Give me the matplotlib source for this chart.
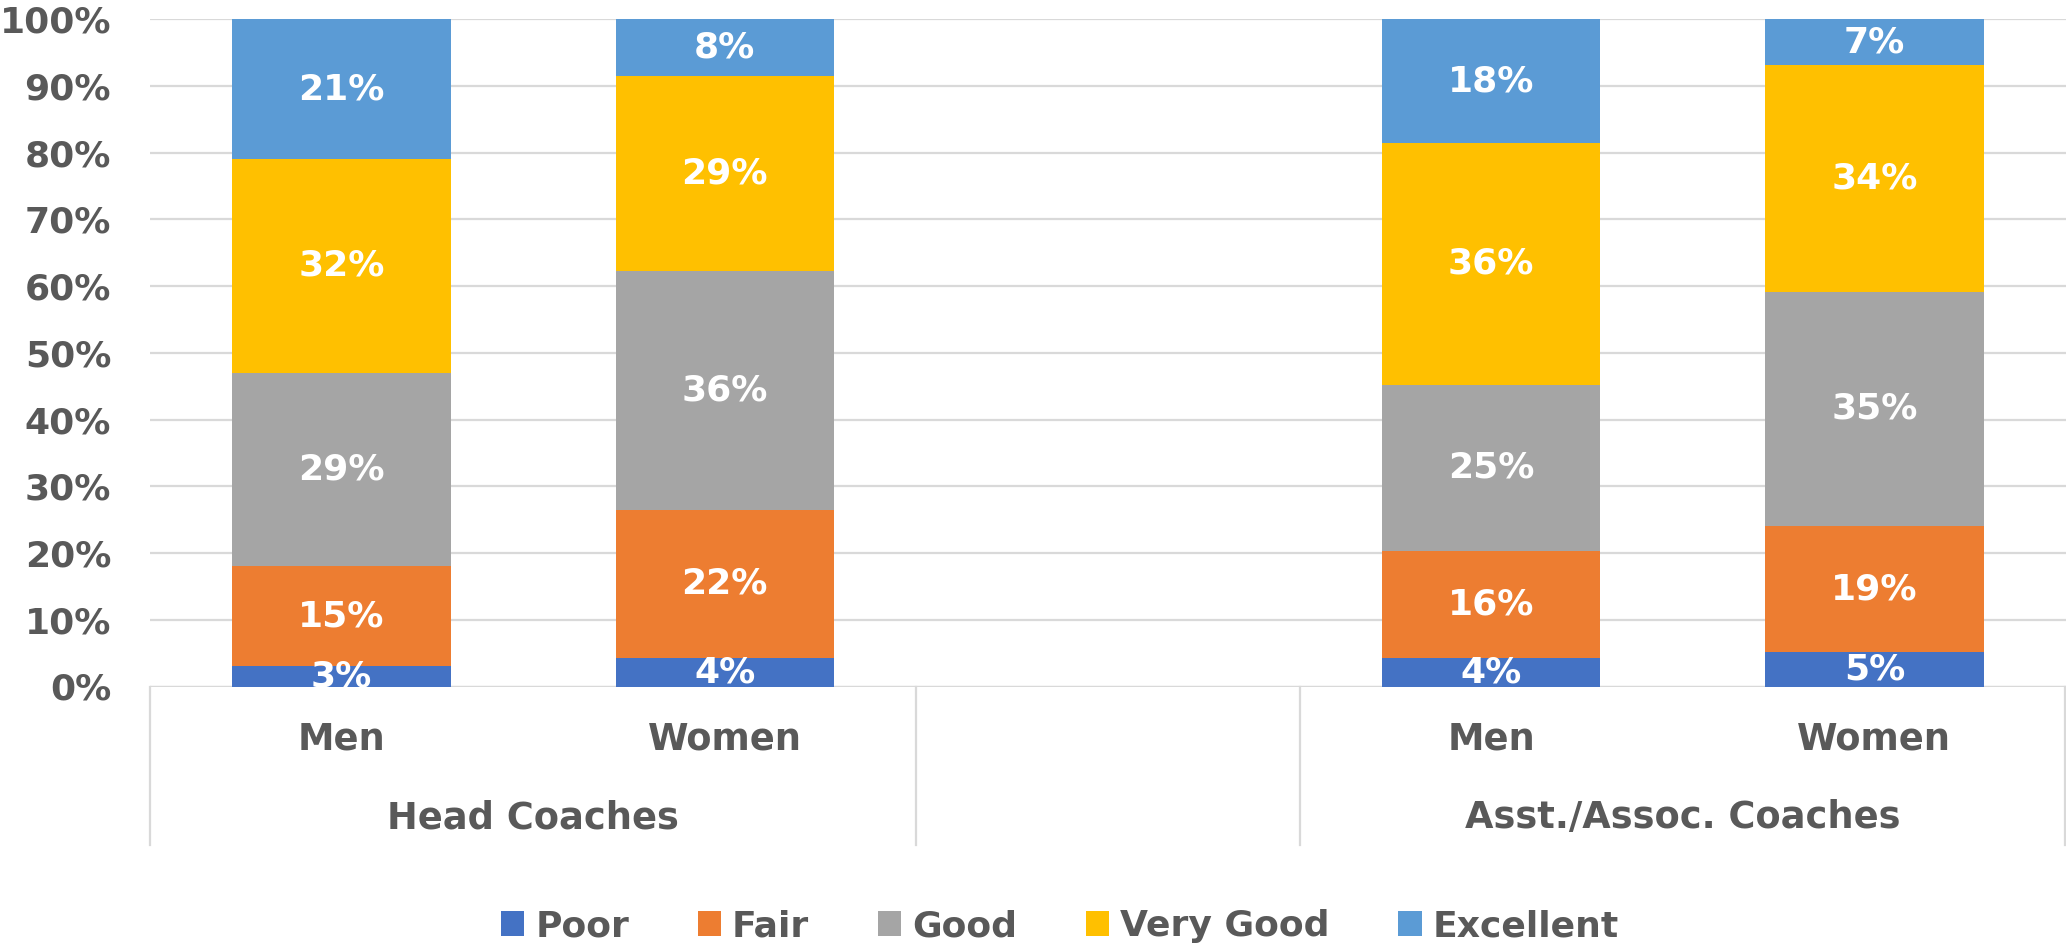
import matplotlib
matplotlib.use("Agg")
import matplotlib.pyplot as plt
import matplotlib.transforms as mtransforms
from matplotlib.lines import Line2D
import numpy as np

plt.rcParams['font.family'] = ['DejaVu Sans']
plt.rcParams['font.weight'] = 'bold'

# ---- data ----
groups = ["Head Coaches", "Asst./Assoc. Coaches"]
subcats = ["Men", "Women", "", "Men", "Women"]
series = ["Poor", "Fair", "Good", "Very Good", "Excellent"]
poor      = [3.0, 4.3, None, 4.3, 5.1]
fair      = [15.0, 22.2, None, 16.0, 19.0]
good      = [29.0, 35.8, None, 24.9, 35.0]
very_good = [32.0, 29.2, None, 36.2, 34.0]
excellent = [21.0, 8.5, None, 18.6, 6.9]
labels = {
    "Poor":      ["3%", "4%", "", "4%", "5%"],
    "Fair":      ["15%", "22%", "", "16%", "19%"],
    "Good":      ["29%", "36%", "", "25%", "35%"],
    "Very Good": ["32%", "29%", "", "36%", "34%"],
    "Excellent": ["21%", "8%", "", "18%", "7%"],
}
colors = ["#4472C4", "#ED7D31", "#A5A5A5", "#FFC000", "#5B9BD5"]
yticks = list(range(0, 101, 10))

TXT = "#595959"
GRID = "#D9D9D9"
FS = 26

fig = plt.figure(figsize=(20.66, 9.47), dpi=100)
ax = fig.add_axes([150/2066, 1-686.5/947, 1-150/2066, (686.5-19)/947])

x = np.arange(len(subcats))
bottom = np.zeros(len(subcats))
handles = []
for name, vals, col in zip(series, [poor, fair, good, very_good, excellent], colors):
    v = np.array([0 if a is None else a for a in vals], dtype=float)
    bars = ax.bar(x, v, width=0.57, bottom=bottom, color=col, zorder=3, label=name)
    handles.append(bars)
    for i in range(len(x)):
        if vals[i] is None:
            continue
        ax.text(x[i], bottom[i] + v[i]/2, labels[name][i], ha='center', va='center',
                color='white', fontsize=FS, fontweight='bold', zorder=4, clip_on=True)
    bottom += v

ax.set_xlim(-0.5, len(subcats) - 0.5)
ax.set_ylim(0, 100)
ax.set_yticks(yticks)
ax.set_yticklabels([f"{t}%" for t in yticks])
ax.tick_params(axis='y', length=0, labelsize=FS, labelcolor=TXT, pad=28)
ax.tick_params(axis='x', length=0, labelbottom=False)
ax.yaxis.grid(True, color=GRID, linewidth=1.6, zorder=0)
for s in ax.spines.values():
    s.set_visible(False)
ax.axhline(0, color=GRID, linewidth=1.6, zorder=2)

trans = mtransforms.blended_transform_factory(ax.transData, ax.transAxes)
for i, s in enumerate(subcats):
    if s:
        ax.text(x[i], -0.079, s, transform=trans, ha='center', va='center',
                color=TXT, fontsize=FS + 0.5, fontweight='bold', clip_on=False)
ax.text(0.5, -0.197, groups[0], transform=trans, ha='center', va='center',
        color=TXT, fontsize=FS + 0.5, fontweight='bold', clip_on=False)
ax.text(3.5, -0.197, groups[1], transform=trans, ha='center', va='center',
        color=TXT, fontsize=FS + 0.5, fontweight='bold', clip_on=False)
for xd in [-0.5, 1.5, 2.5, 4.5]:
    xx = xd if xd < 4.4 else 4.497
    ax.add_line(Line2D([xx, xx], [0, -0.2375], transform=trans, color=GRID,
                       linewidth=1.6, clip_on=False))

leg = fig.legend(handles=handles, labels=series, loc='center', bbox_to_anchor=(0.513, 0.022),
                 ncol=5, frameon=False, fontsize=FS, handlelength=0.65, handleheight=0.7,
                 handletextpad=0.3, columnspacing=1.9, borderaxespad=0)
for t in leg.get_texts():
    t.set_color(TXT)
    t.set_fontweight('bold')

fig.savefig("out.png", dpi=100)
